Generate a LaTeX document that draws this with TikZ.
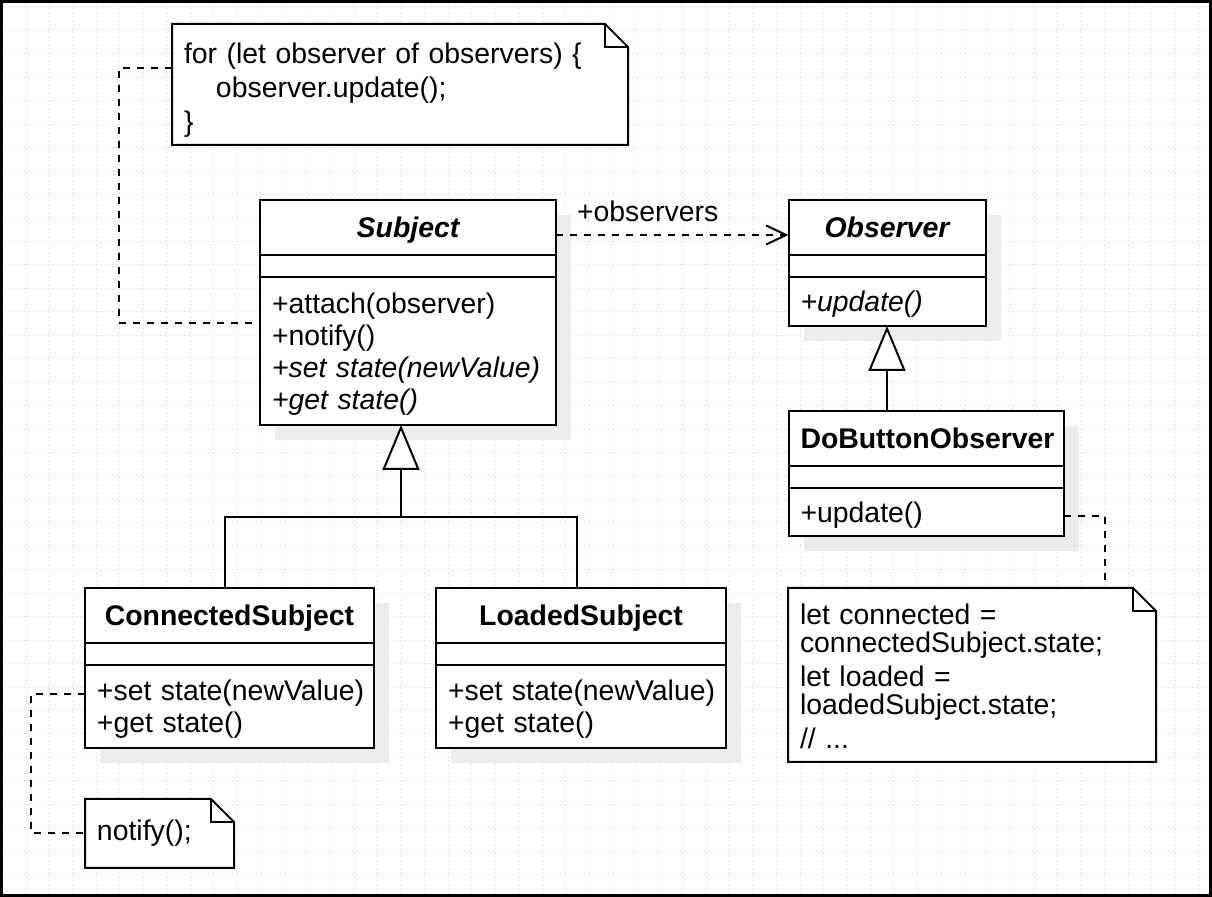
\documentclass[tikz,border=0pt]{standalone}
\usepackage{fontspec}
\setmainfont{Liberation Sans}
\usetikzlibrary{positioning,arrows.meta,shadows,backgrounds}

\newlength{\du}
\setlength{\du}{0.5pt}

\definecolor{dialinecolor}{rgb}{0.000000, 0.000000, 0.000000}
\definecolor{diafillcolor}{rgb}{1.000000, 1.000000, 1.000000}
\definecolor{diashadowcolor}{rgb}{0.925000, 0.925000, 0.925000}
\definecolor{diagridcolor}{rgb}{0.900000, 0.900000, 0.900000}

\newcommand{\classfont}{\fontsize{14.2}{16}\selectfont}
\newcommand{\notefont}{\fontsize{14.2}{14}\selectfont}
\newcommand{\opsstrut}{\rule{0pt}{13pt}}

\tikzset{
  umlbox/.style={draw=dialinecolor, fill=diafillcolor, line width=2\du, outer sep=0pt,
    inner xsep=12\du, inner ysep=0pt,
    drop shadow={shadow xshift=15\du, shadow yshift=-15\du, opacity=1, fill=diashadowcolor}},
  classhead/.style={umlbox, minimum height=55\du, align=center, text height=10pt, text depth=0pt, font=\classfont\bfseries},
  classattr/.style={umlbox, minimum height=22\du},
  classops/.style={umlbox, align=left, font=\classfont},
  umlnote/.style={inner xsep=12\du, inner ysep=0pt, outer sep=0pt, align=left, font=\notefont},
  notebox/.style={draw=dialinecolor, line width=2\du, line join=miter},
  umlline/.style={draw=dialinecolor, line width=2\du},
  notelink/.style={umlline, dash pattern=on 7\du off 7\du},
  assoc/.style={notelink, -{Straight Barb[length=10pt, width=9.5pt]}},
  inherit/.style={umlline, -{Triangle[length=22.5pt, width=18.5pt, fill=diafillcolor]}},
  gridline/.style={draw=diagridcolor, line width=1\du, dash pattern=on 2\du off 2\du},
}

% note outline with folded corner
\newcommand{\drawnote}[1]{%
  \begin{scope}[on background layer]
    \fill[diafillcolor] (#1.north west) -- ([xshift=-23\du]#1.north east) -- ([yshift=-23\du]#1.north east) -- (#1.south east) -- (#1.south west) -- cycle;
  \end{scope}
  \draw[notebox] (#1.north west) -- ([xshift=-23\du]#1.north east) -- ([yshift=-23\du]#1.north east) -- (#1.south east) -- (#1.south west) -- cycle;
  \draw[notebox] ([xshift=-23\du]#1.north east) |- ([yshift=-23\du]#1.north east);}

\begin{document}
\begin{tikzpicture}[x=1\du, y=-1\du]
\useasboundingbox (0,0) rectangle (1212,897);

% grid
\begin{scope}[on background layer]
\foreach \gx in {0,...,51} \draw[gridline] (2.7+23.45*\gx,0) -- (2.7+23.45*\gx,897);
\foreach \gy in {0,...,37} \draw[gridline] (0,7+23.45*\gy) -- (1212,7+23.45*\gy);
\end{scope}

% Subject
\node[classhead, text width=272\du, anchor=north west] (subjecthead) at (260,200) {\itshape Subject};
\node[classattr, text width=272\du, below=0pt of subjecthead] (subjectattr) {};
\node[classops, text width=272\du, minimum height=148\du, below=0pt of subjectattr] (subjectops) {\opsstrut+attach(observer)\\+notify()\\\textit{+set~state(newValue)}\\\textit{+get~state()}};

% Observer
\node[classhead, text width=173\du, anchor=north west] (observerhead) at (788.5,200) {\itshape Observer};
\node[classattr, text width=173\du, below=0pt of observerhead] (observerattr) {};
\node[classops, text width=173\du, minimum height=49\du, below=0pt of observerattr] (observerops) {\opsstrut\textit{+update()}};

% DoButtonObserver
\node[classhead, text width=251.5\du, anchor=north west] (dohead) at (788.5,411) {DoButtonObserver};
\node[classattr, text width=251.5\du, below=0pt of dohead] (doattr) {};
\node[classops, text width=251.5\du, minimum height=48\du, below=0pt of doattr] (doops) {\opsstrut+update()};

% ConnectedSubject
\node[classhead, text width=265\du, anchor=north west] (connhead) at (85,588) {ConnectedSubject};
\node[classattr, text width=265\du, below=0pt of connhead] (connattr) {};
\node[classops, text width=265\du, minimum height=83\du, below=0pt of connattr] (connops) {\opsstrut+set~state(newValue)\\+get~state()};

% LoadedSubject
\node[classhead, text width=266\du, anchor=north west] (loadedhead) at (436,588) {LoadedSubject};
\node[classattr, text width=266\du, below=0pt of loadedhead] (loadedattr) {};
\node[classops, text width=266\du, minimum height=83\du, below=0pt of loadedattr] (loadedops) {\opsstrut+set~state(newValue)\\+get~state()};

% notes
\node[umlnote, text width=432\du, minimum height=121\du, anchor=north west] (topnote) at (172,24) {\rule{0pt}{15.5pt}for (let observer of observers) \{\\[6\du]\hspace*{32\du}observer.update();\\[6\du]\}};
\drawnote{topnote}
\node[umlnote, text width=344\du, minimum height=174\du, anchor=north west] (rightnote) at (788,588) {\rule{0pt}{12pt}let connected =\\connectedSubject.state;\\[6\du]let loaded =\\loadedSubject.state;\\[6\du]// ...};
\drawnote{rightnote}
\node[umlnote, text width=125\du, minimum height=69\du, anchor=north west] (notifynote) at (85,799) {notify();};
\drawnote{notifynote}

% association
\draw[assoc] ([yshift=-7.5\du]subjecthead.east) -- ([yshift=-7.5\du]observerhead.west)
  node[pos=0, anchor=base west, inner sep=0pt, xshift=20\du, yshift=13\du, font=\classfont] (obslabel) {+observers};

% generalizations
\coordinate (bus) at (401,517);
\draw[umlline] ([xshift=-4.5\du]connhead.north) |- (bus) -| ([xshift=-4\du]loadedhead.north);
\draw[inherit] (bus) -- (bus |- subjectops.south);
\draw[inherit] (dohead.north -| observerops.south) -- (observerops.south);

% note links
\draw[notelink] ([yshift=16.5\du]topnote.west) -- ++(-53,0) |- ([yshift=28\du]subjectops.west);
\draw[notelink] ([yshift=-4\du]doops.east) -| ([xshift=133\du]rightnote.north);
\draw[notelink] ([yshift=12.5\du]connops.west) -- ++(-54,0) |- (notifynote.west);

% frame
\draw[line width=3\du, draw=dialinecolor] (1.5,1.5) rectangle (1210.5,895.5);
\end{tikzpicture}
\end{document}
